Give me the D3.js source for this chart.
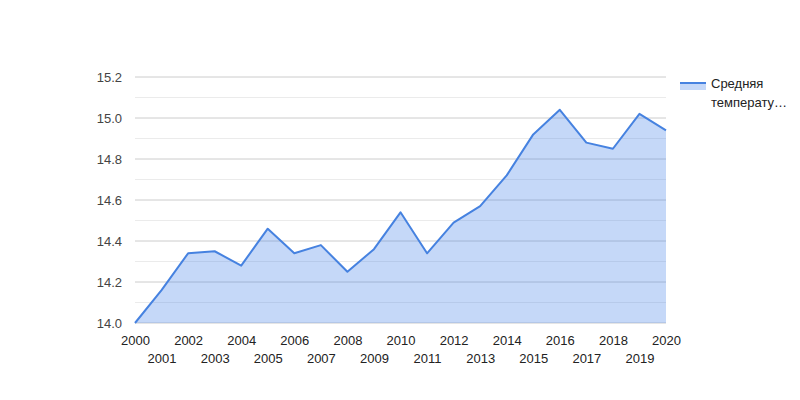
<!DOCTYPE html>
<html><head><meta charset="utf-8">
<script src="https://cdn.jsdelivr.net/npm/d3@7"></script>
<style>body{margin:0;background:#fff;} text{font-family:"Liberation Sans",Arial,sans-serif;}</style>
</head><body><svg id="c" width="800" height="400"></svg>
<script>
const years = [2000,2001,2002,2003,2004,2005,2006,2007,2008,2009,2010,2011,2012,2013,2014,2015,2016,2017,2018,2019,2020];
const values = [14.00,14.16,14.34,14.35,14.28,14.46,14.34,14.38,14.25,14.36,14.54,14.34,14.49,14.57,14.72,14.92,15.04,14.88,14.85,15.02,14.94];
const yTicks = [14.0,14.2,14.4,14.6,14.8,15.0,15.2];
const yMinor = [14.1,14.3,14.5,14.7,14.9,15.1];
const seriesName = "Средняя температура";

const svg = d3.select("#c");
const x = d3.scaleLinear().domain([2000,2020]).range([135,666]);
const y = d3.scaleLinear().domain([14.0,15.2]).range([323,77]);

svg.append("g").selectAll("line").data(yMinor).join("line")
  .attr("x1",135).attr("x2",666).attr("y1",d=>y(d)).attr("y2",d=>y(d))
  .attr("stroke","#ebebeb").attr("stroke-width",1);
svg.append("g").selectAll("line").data(yTicks).join("line")
  .attr("x1",135).attr("x2",666).attr("y1",d=>y(d)).attr("y2",d=>y(d))
  .attr("stroke","#cccccc").attr("stroke-width",1);

const area = d3.area().x((d,i)=>x(years[i])).y0(y(14.0)).y1(d=>y(d));
svg.append("path").datum(values).attr("d",area).attr("fill","#4a86e8").attr("fill-opacity",0.32);
const line = d3.line().x((d,i)=>x(years[i])).y(d=>y(d));
svg.append("path").datum(values).attr("d",line).attr("fill","none").attr("stroke","#4682e0").attr("stroke-width",2).attr("stroke-linejoin","round");

// y axis labels
const yAxis = d3.axisLeft(y).tickValues(yTicks).tickFormat(d3.format(".1f")).tickSize(0).tickPadding(13);
const ga = svg.append("g").attr("transform","translate(135,0)").call(yAxis);
ga.select(".domain").remove();
ga.selectAll("text").attr("font-size",13).attr("fill","#444").attr("font-family","Liberation Sans, Arial, sans-serif").attr("dy","0.35em");

// x axis labels, staggered
const xAxis = d3.axisBottom(x).tickValues(years).tickFormat(d3.format("d")).tickSize(0).tickPadding(0);
const gx = svg.append("g").attr("transform","translate(0,323)").call(xAxis);
gx.select(".domain").remove();
gx.selectAll("text").attr("font-size",13).attr("fill","#222").attr("font-family","Liberation Sans, Arial, sans-serif")
  .attr("dy",null).attr("y",(d,i)=> i%2===0 ? 22 : 40);

// legend
const lg = svg.append("g");
lg.append("rect").attr("x",680).attr("y",83).attr("width",26).attr("height",7).attr("fill","#4a86e8").attr("fill-opacity",0.32);
lg.append("line").attr("x1",680).attr("x2",706).attr("y1",83).attr("y2",83).attr("stroke","#4682e0").attr("stroke-width",2);
lg.append("text").attr("x",711).attr("y",88).attr("font-size",13).attr("fill","#222").text("Средняя");
lg.append("text").attr("x",711).attr("y",107).attr("font-size",13).attr("fill","#222").text("температу…");
</script></body></html>
